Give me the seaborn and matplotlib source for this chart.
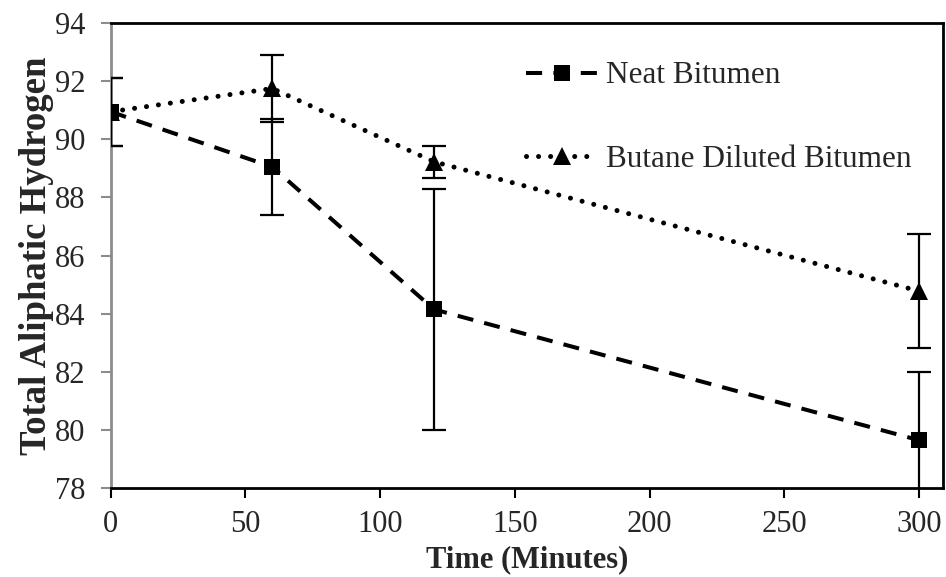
import matplotlib
matplotlib.use("Agg")
import matplotlib.pyplot as plt
from matplotlib.lines import Line2D
import seaborn as sns
import pandas as pd

# Measurements
time_min = [0, 60, 120, 300]
neat = [90.95, 89.05, 84.15, 79.65]
neat_err = [1.17, 1.65, 4.15, 2.35]
butane = [90.95, 91.75, 89.23, 84.78]
butane_err = [1.17, 1.15, 0.55, 1.96]
series_names = ["Neat Bitumen", "Butane Diluted Bitumen"]
x_ticks = [0, 50, 100, 150, 200, 250, 300]
y_ticks = [78, 80, 82, 84, 86, 88, 90, 92, 94]

sns.set_style("white")
plt.rcParams["font.family"] = ["Liberation Serif", "DejaVu Serif"]

df = pd.DataFrame({
    "Time": time_min * 2,
    "Value": neat + butane,
    "Series": [series_names[0]] * len(time_min) + [series_names[1]] * len(time_min),
})

DASHED = (4, 2.8)
DOTTED = (0.01, 2.4)
DASH_LW = 2.9
DOT_LW = 3.6

fig = plt.figure(figsize=(9.46, 5.77), dpi=100)
ax = fig.add_axes([0.117, 0.154, 0.880, 0.806])

sns.lineplot(
    data=df, x="Time", y="Value", hue="Series", style="Series",
    palette={series_names[0]: "black", series_names[1]: "black"},
    dashes={series_names[0]: DASHED, series_names[1]: DOTTED},
    markers={series_names[0]: "s", series_names[1]: "^"},
    markersize=11, linewidth=DASH_LW, markeredgewidth=0,
    legend=False, ax=ax, zorder=3,
)
for ln in ax.get_lines():
    if ln.get_marker() == "^":
        ln.set_dash_capstyle("round")
        ln.set_linewidth(DOT_LW)
        ln.set_markersize(13)

for vals, errs in [(neat, neat_err), (butane, butane_err)]:
    ax.errorbar(time_min, vals, yerr=errs, fmt="none", ecolor="black",
                elinewidth=1.6, capsize=8.5, capthick=1.6, zorder=4)

ax.set_xlim(0, 309)
ax.set_ylim(78, 94)
ax.set_xticks(x_ticks)
ax.set_yticks(y_ticks)
ax.tick_params(axis="x", direction="out", length=7, width=1.5, color="black",
               labelsize=22, pad=9, bottom=True)
ax.tick_params(axis="y", direction="out", length=7, width=1.5, color="#8c8c8c",
               labelsize=22, pad=11, left=True)

for side in ["top", "right", "bottom"]:
    ax.spines[side].set_visible(True)
    ax.spines[side].set_color("black")
    ax.spines[side].set_linewidth(2)
ax.spines["left"].set_color("#8c8c8c")
ax.spines["left"].set_linewidth(2)

ax.set_xlabel("Time (Minutes)", fontsize=22, fontweight="bold", labelpad=4)
ax.set_ylabel("Total Aliphatic Hydrogen", fontsize=26.5, fontweight="bold", labelpad=1)

handles = [
    Line2D([], [], color="black", linestyle=(0, DASHED), linewidth=DASH_LW,
           marker="s", markersize=11, markeredgewidth=0),
    Line2D([], [], color="black", linestyle=(0, DOTTED), linewidth=DOT_LW,
           dash_capstyle="round", marker="^", markersize=13, markeredgewidth=0),
]
ax.legend(handles, series_names, loc="upper left", bbox_to_anchor=(0.48, 0.951),
          frameon=False, fontsize=22.5, handlelength=2.3, handletextpad=0.25,
          labelspacing=1.75, borderpad=0)

fig.savefig("out.png", dpi=100)
